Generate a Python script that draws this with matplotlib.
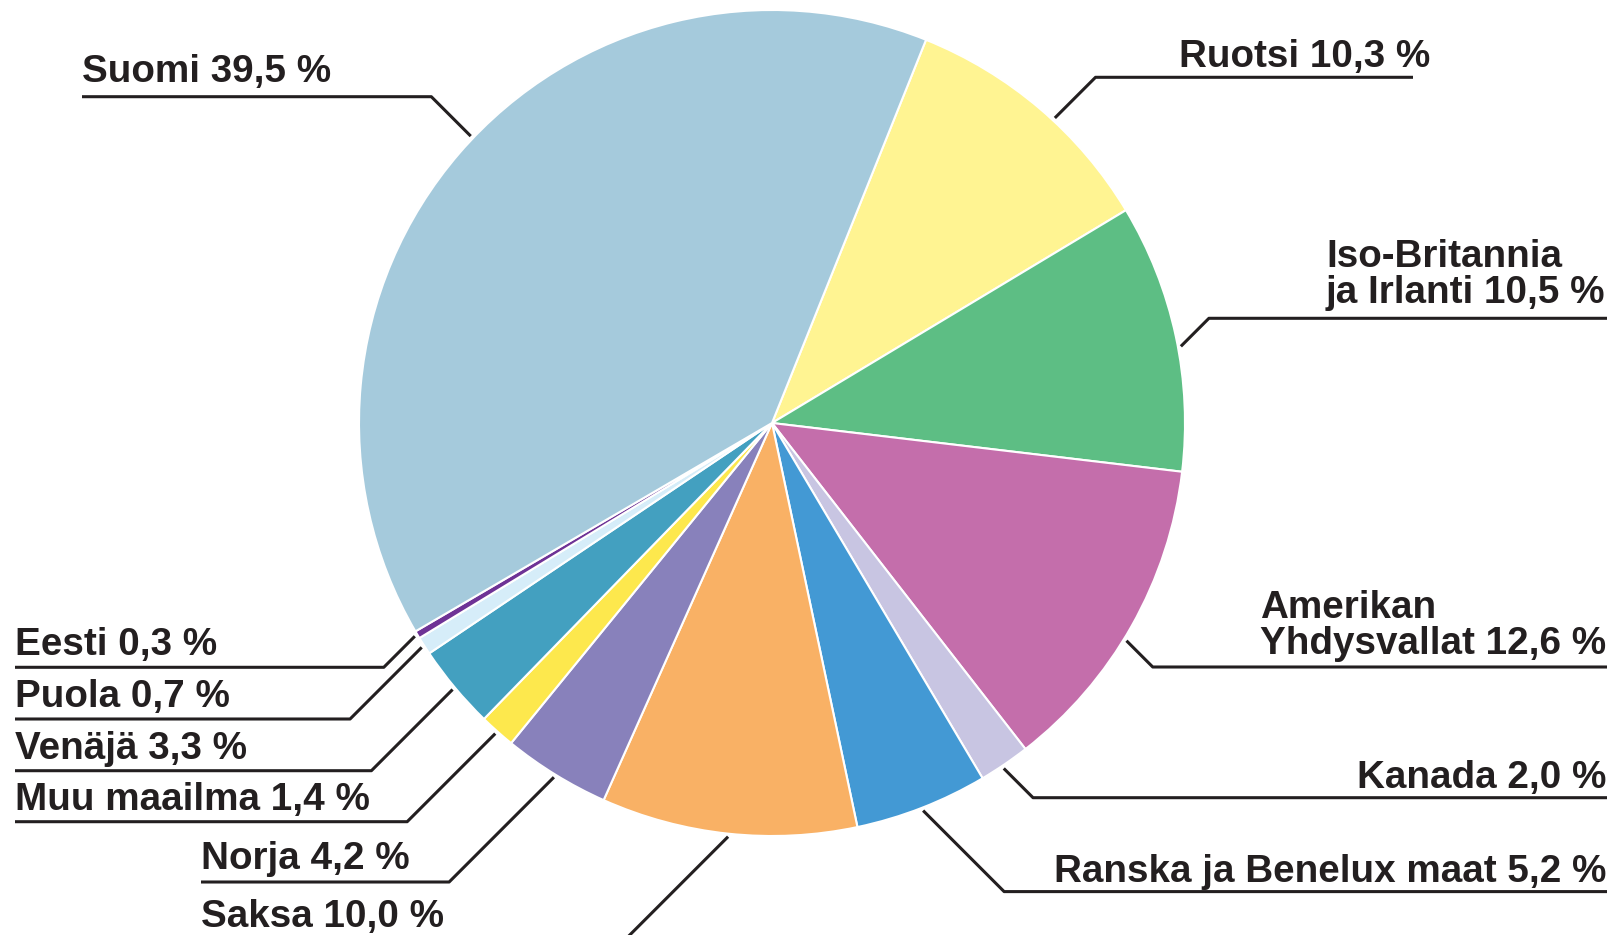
import numpy as np
import matplotlib.pyplot as plt

# share of visitors by country, clockwise from Ruotsi
names = ['Ruotsi', 'Iso-Britannia\nja Irlanti', 'Amerikan\nYhdysvallat', 'Kanada',
         'Ranska ja Benelux maat', 'Saksa', 'Norja', 'Muu maailma', 'Venäjä',
         'Puola', 'Eesti', 'Suomi']
shares = [10.3, 10.5, 12.6, 2.0, 5.2, 10.0, 4.2, 1.4, 3.3, 0.7, 0.3, 39.5]
colors = ['#fff492', '#5dbe84', '#c46eab', '#c8c5e2', '#4399d4', '#f9b165',
          '#8881bb', '#fde84d', '#43a0c0', '#d6edf9', '#6e3396', '#a5cadc']

# label layout in pixels: side, text x, first baseline, underline y, underline end
side = ['r', 'r', 'r', 'r', 'r', 'l', 'l', 'l', 'l', 'l', 'l', 'l']
text_ha = ['left', 'left', 'left', 'right', 'right', 'left', 'left', 'left',
           'left', 'left', 'left', 'left']
text_x = [1179, 1326, 1260, 1606, 1606, 201, 201, 15, 15, 15, 15, 82]
base_y = [67, 266.7, 618, 788, 882, 927, 869, 810, 759, 707, 655, 81.7]
line_y = [77.3, 318.3, 667, 797.7, 891.6, 945, 882, 821.7, 770.7, 719, 667.3, 96.7]
line_end = [1413, 1607, 1607, 1607, 1607, 195, 201, 15, 15, 15, 15, 82]
# small shift of the leader tip away from the wedge middle (screen degrees)
tip_shift = [2.4, 1.5, 2.1, 0.4, 0, 0, 0, 0, 0, 0, 0, 2.8]

W, H = 1618, 935
cx, cy, r = 772, 423, 413
ink = '#231f20'

fig = plt.figure(figsize=(W / 100, H / 100), dpi=100)
ax = fig.add_axes([0, 0, 1, 1])

# y axis is inverted, so counterclockwise in data is clockwise on screen
wedges, _ = ax.pie(shares, colors=colors, startangle=-68.1, counterclock=True,
                   center=(cx, cy), radius=r,
                   wedgeprops=dict(edgecolor='white', linewidth=1.5))

ax.set_xlim(0, W)
ax.set_ylim(H, 0)
ax.set_aspect('auto')
ax.axis('off')

for i, w in enumerate(wedges):
    mid = np.deg2rad((w.theta1 + w.theta2) / 2 + tip_shift[i])
    tx = cx + (r + 3) * np.cos(mid)
    ty = cy + (r + 3) * np.sin(mid)
    dy = abs(line_y[i] - ty)
    ex = tx + dy if side[i] == 'r' else tx - dy
    ax.plot([tx, ex, line_end[i]], [ty, line_y[i], line_y[i]],
            color=ink, lw=2.2, solid_capstyle='butt')

    label = names[i] + ' ' + ('%.1f' % shares[i]).replace('.', ',') + ' %'
    for j, ln in enumerate(label.split('\n')):
        ax.text(text_x[i], base_y[i] + j * 36, ln, ha=text_ha[i],
                va='baseline', fontsize=27.8, fontweight='bold',
                family='Liberation Sans', color=ink)

fig.savefig('out.png', dpi=100)
